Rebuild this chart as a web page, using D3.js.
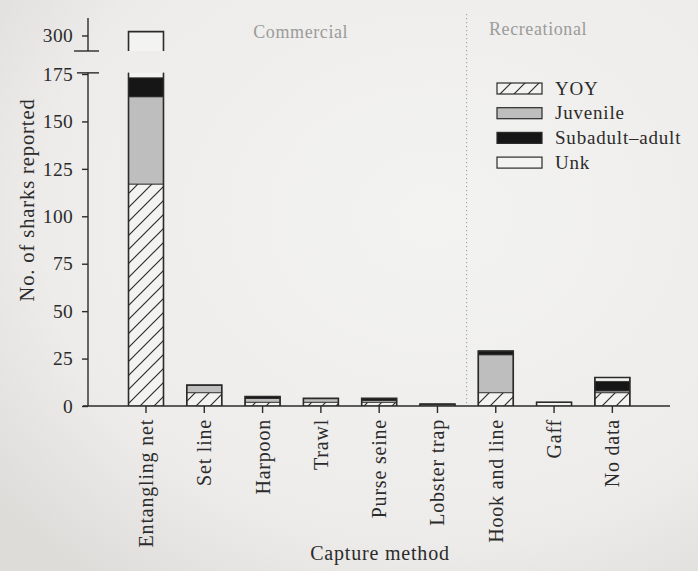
<!DOCTYPE html>
<html>
<head>
<meta charset="utf-8">
<script src="https://cdn.jsdelivr.net/npm/d3@7"></script>
<style>
  html, body { margin: 0; padding: 0; background: #eeedeb; }
  svg { display: block; }
  text { font-family: "Liberation Serif", "Times New Roman", serif; fill: #2b2b2b; }
</style>
</head>
<body>
<svg id="chart" width="698" height="571"></svg>
<script>
// Capture method categories (commercial first, then recreational)
const categories = ["Entangling net", "Set line", "Harpoon", "Trawl", "Purse seine",
                    "Lobster trap", "Hook and line", "Gaff", "No data"];

// Sharks reported per life stage
const yoy      = [117, 7, 2, 2, 2, 0, 7, 0, 7];
const juvenile = [46, 4, 2, 2, 1, 1, 20, 0, 1];
const subadult = [10, 0, 1, 0, 1, 0, 2, 0, 5];
const unknown  = [129, 0, 0, 0, 0, 0, 0, 2, 2];

const seriesKeys   = ["YOY", "Juvenile", "Subadult–adult", "Unk"];
const seriesValues = [yoy, juvenile, subadult, unknown];

// Axis ticks: lower panel and the broken upper panel
const lowerTicks = [0, 25, 50, 75, 100, 125, 150, 175];
const upperTicks = [300];

// Fishery groups and the categories they span
const groupNames = ["Commercial", "Recreational"];
const groupFirst = [0, 6];
const groupLast  = [5, 8];

const svg = d3.select("#chart");
const W = 698, H = 571;

// Paper background with a soft vignette
const defs = svg.append("defs");
const bg = defs.append("radialGradient").attr("id", "paper")
  .attr("cx", "62%").attr("cy", "38%").attr("r", "80%");
bg.append("stop").attr("offset", "0%").attr("stop-color", "#f3f3f1");
bg.append("stop").attr("offset", "70%").attr("stop-color", "#edecea");
bg.append("stop").attr("offset", "100%").attr("stop-color", "#dddcd9");
svg.append("rect").attr("width", W).attr("height", H).attr("fill", "url(#paper)");

// Diagonal hatch for YOY
const hatch = defs.append("pattern").attr("id", "hatch")
  .attr("patternUnits", "userSpaceOnUse").attr("width", 14).attr("height", 14);
hatch.append("rect").attr("width", 14).attr("height", 14).attr("fill", "#f3f3f1");
hatch.append("path")
  .attr("d", "M0,14 L14,0 M-4,4 L4,-4 M10,18 L18,10")
  .attr("stroke", "#2e2e2e").attr("stroke-width", 1.2);

const fills = {
  "YOY": "url(#hatch)",
  "Juvenile": "#bebebe",
  "Subadult–adult": "#161616",
  "Unk": "#f3f3f1"
};

// Scales
const x = d3.scaleBand().domain(categories)
  .range([116.85, 641.5]).paddingInner(0.4).paddingOuter(0.2);
const yLow = d3.scaleLinear().domain([0, 175]).range([406, 74]);
const yUp  = d3.scaleLinear().domain([292, 309]).range([51, 18]);
const lowMax = 175.6;   // top of lower panel (value)
const upMin  = 292;     // bottom of upper panel (value)

// Stack data
const table = categories.map((c, i) => {
  const row = { category: c };
  seriesKeys.forEach((k, j) => row[k] = seriesValues[j][i]);
  return row;
});
const stacked = d3.stack().keys(seriesKeys)(table);

// Clip regions for the two panels
defs.append("clipPath").attr("id", "clipLow").append("rect")
  .attr("x", 0).attr("y", yLow(lowMax)).attr("width", W).attr("height", 406 - yLow(lowMax));
defs.append("clipPath").attr("id", "clipUp").append("rect")
  .attr("x", 0).attr("y", 0).attr("width", W).attr("height", yUp(upMin));

const ink = "#2b2b2b";

// Separator between commercial and recreational
const sepX = (x(categories[groupLast[0]]) + x.bandwidth() + x(categories[groupFirst[1]])) / 2;
svg.append("line")
  .attr("x1", sepX).attr("x2", sepX).attr("y1", 14).attr("y2", 406)
  .attr("stroke", "#9a9a9a").attr("stroke-width", 1).attr("stroke-dasharray", "1.2,2.8");

// Group labels
groupNames.forEach((g, i) => {
  const cx = i === 0
    ? (x(categories[groupFirst[i]]) + x(categories[groupLast[i]]) + x.bandwidth()) / 2 + 9
    : (x(categories[groupFirst[i]]) + x(categories[groupLast[i]]) + x.bandwidth()) / 2 - 16;
  svg.append("text")
    .attr("x", cx).attr("y", i === 0 ? 38 : 35)
    .attr("text-anchor", "middle")
    .style("font-size", "18px").style("letter-spacing", "0.6px")
    .style("fill", "#9b9b9b")
    .text(g);
});

// Bars: segments in both panels
["clipLow", "clipUp"].forEach(clip => {
  const scale = clip === "clipLow" ? yLow : yUp;
  const layer = svg.append("g").attr("clip-path", `url(#${clip})`);
  stacked.forEach(s => {
    layer.selectAll(null).data(s.filter(d => d[1] > d[0])).join("rect")
      .attr("x", d => x(d.data.category))
      .attr("width", x.bandwidth())
      .attr("y", d => scale(d[1]))
      .attr("height", d => scale(d[0]) - scale(d[1]))
      .attr("fill", fills[s.key])
      .attr("stroke", ink).attr("stroke-width", 0.8);
  });
});

// Bar outlines (split across the axis break when needed)
const totals = table.map(r => d3.sum(seriesKeys, k => r[k]));
categories.forEach((c, i) => {
  const x0 = x(c), x1 = x0 + x.bandwidth(), t = totals[i];
  if (t <= lowMax) {
    svg.append("path")
      .attr("d", `M${x0},${yLow(0)}V${yLow(t)}H${x1}V${yLow(0)}`)
      .attr("fill", "none").attr("stroke", ink).attr("stroke-width", 1.6);
  } else {
    svg.append("path")
      .attr("d", `M${x0},${yLow(0)}V${yLow(lowMax)}M${x1},${yLow(0)}V${yLow(lowMax)}`)
      .attr("fill", "none").attr("stroke", ink).attr("stroke-width", 1.6);
    svg.append("path")
      .attr("d", `M${x0},${yUp(upMin)}V${yUp(t)}H${x1}V${yUp(upMin)}`)
      .attr("fill", "none").attr("stroke", ink).attr("stroke-width", 1.6);
  }
});

// Y axis, lower panel
const axLow = svg.append("g").attr("transform", "translate(88,0)")
  .call(d3.axisLeft(yLow).tickValues(lowerTicks).tickSize(6).tickSizeOuter(0).tickPadding(9));
// Y axis, upper panel
const axUp = svg.append("g").attr("transform", "translate(88,0)")
  .call(d3.axisLeft(yUp).tickValues(upperTicks).tickSize(6).tickSizeOuter(0).tickPadding(9));
[axLow, axUp].forEach(ax => {
  ax.select(".domain").attr("stroke", ink).attr("stroke-width", 1.4);
  ax.selectAll(".tick line").attr("stroke", ink).attr("stroke-width", 1.4);
  ax.selectAll(".tick text").attr("fill", ink)
    .style("font-size", "19.5px").style("letter-spacing", "0.3px")
    .style("font-family", "Liberation Serif, serif");
});
// Break caps on the y axis
svg.append("line").attr("x1", 74).attr("x2", 99).attr("y1", yUp(upMin)).attr("y2", yUp(upMin))
  .attr("stroke", ink).attr("stroke-width", 1.4);
svg.append("line").attr("x1", 77).attr("x2", 99).attr("y1", yLow(lowMax)).attr("y2", yLow(lowMax))
  .attr("stroke", ink).attr("stroke-width", 1.4);
axUp.select(".domain").attr("d", `M0,${yUp(upMin)}V${yUp(309)}`);
axLow.select(".domain").attr("d", `M0,${yLow(0)}V${yLow(lowMax)}`);

// X axis
const axX = svg.append("g").attr("transform", `translate(0,${yLow(0)})`)
  .call(d3.axisBottom(x).tickSize(7).tickSizeOuter(0).tickPadding(7));
axX.select(".domain").attr("d", `M83,0H670`).attr("stroke", ink).attr("stroke-width", 1.4);
axX.selectAll(".tick line").attr("stroke", ink).attr("stroke-width", 1.4);
axX.selectAll(".tick text")
  .attr("fill", ink)
  .style("font-size", "20px").style("letter-spacing", "0.8px")
  .attr("text-anchor", "end")
  .attr("transform", "rotate(-90)")
  .attr("x", -13).attr("y", 0).attr("dy", "0.35em");

// Axis titles
svg.append("text")
  .attr("transform", "translate(34,200) rotate(-90)")
  .attr("text-anchor", "middle")
  .style("font-size", "20.5px").style("letter-spacing", "0.9px")
  .text("No. of sharks reported");
svg.append("text")
  .attr("x", 380).attr("y", 560)
  .attr("text-anchor", "middle")
  .style("font-size", "20px").style("letter-spacing", "0.8px")
  .text("Capture method");

// Legend
const legend = svg.append("g").attr("transform", "translate(497,83)");
seriesKeys.forEach((k, i) => {
  const row = legend.append("g").attr("transform", `translate(0,${i * 24.7})`);
  row.append("rect").attr("width", 45).attr("height", 11)
    .attr("fill", fills[k]).attr("stroke", ink).attr("stroke-width", 1.2);
  row.append("text").attr("x", 58).attr("y", 11.5)
    .style("font-size", "19px").style("letter-spacing", "0.8px")
    .text(k);
});
</script>
</body>
</html>
